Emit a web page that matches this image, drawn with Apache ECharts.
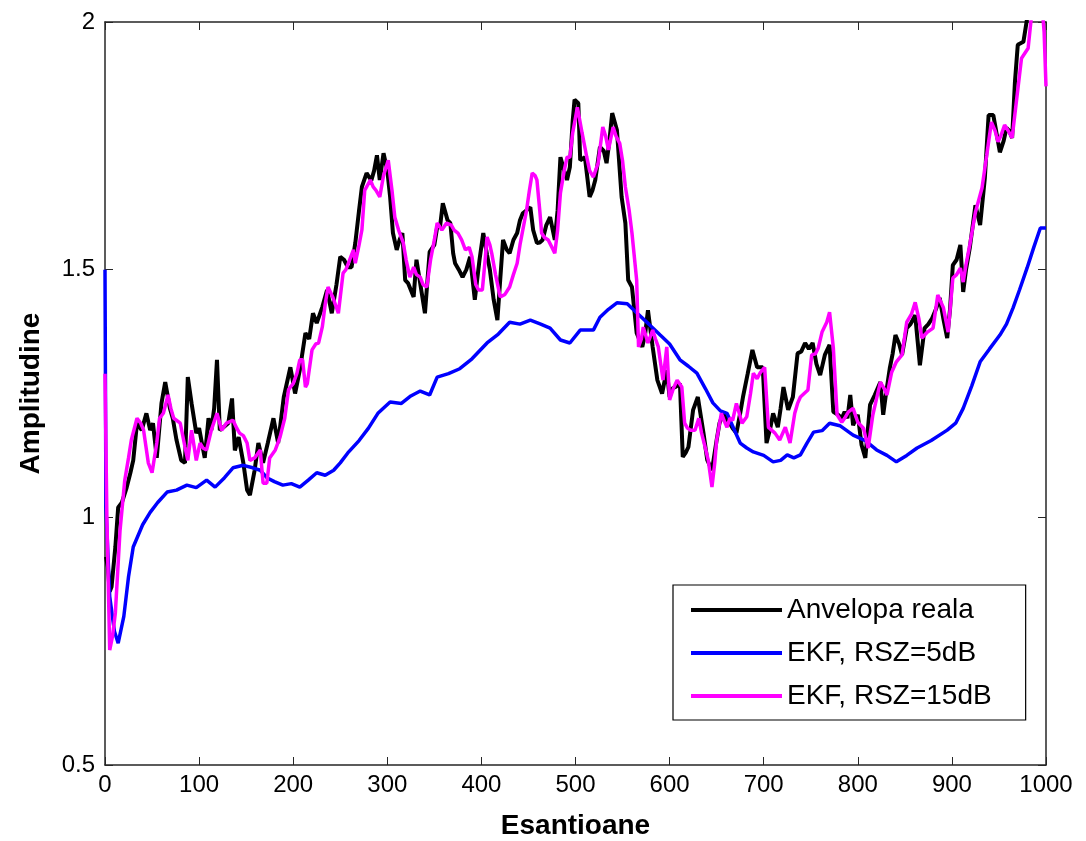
<!DOCTYPE html>
<html>
<head>
<meta charset="utf-8">
<title>Anvelopa</title>
<script src="https://cdn.jsdelivr.net/npm/echarts@6/dist/echarts.min.js"></script>
<style>
  html, body { margin: 0; padding: 0; background: #fff; }
  #chart { width: 1086px; height: 841px; }
</style>
</head>
<body>
<div id="chart"></div>
<script>
// Sample indices and amplitudes for each curve
const realIdx = [1,3,5,7,9,11,14,18,23,27,30,34,39,44,48,51,55,60,64,69,72,76,81,85,88,92,97,100,103,106,110,113,116,119,122,126,131,135,138,142,147,151,154,159,163,168,173,179,184,190,197,202,207,213,217,221,225,231,236,241,246,250,254,258,262,266,270,273,278,283,286,289,292,296,300,303,306,310,313,316,319,322,328,331,333,336,340,345,350,353,356,359,361,364,367,370,372,376,380,384,388,393,398,402,406,409,413,417,420,423,427,430,434,438,441,444,448,452,455,459,462,465,469,473,478,481,484,488,491,494,497,499,503,505,510,515,518,521,526,530,533,536,539,544,549,553,556,560,565,571,574,577,582,587,592,597,600,603,606,611,614,617,620,625,630,636,640,645,650,653,657,660,664,667,671,675,678,683,688,693,699,703,707,710,715,718,721,726,731,736,740,744,748,752,756,760,765,770,774,779,783,786,789,792,795,800,804,808,813,818,821,824,827,830,834,837,840,844,847,852,856,861,866,871,875,879,883,887,891,895,898,901,905,909,912,915,919,925,930,935,939,944,947,951,955,958,961,964,967,970,976,981,985,990,995,1000];
const realAmp = [0.92,0.90,0.85,0.86,0.90,0.94,1.02,1.03,1.06,1.09,1.115,1.19,1.176,1.21,1.176,1.19,1.12,1.23,1.273,1.22,1.20,1.156,1.115,1.11,1.283,1.23,1.17,1.18,1.15,1.12,1.20,1.176,1.22,1.318,1.176,1.182,1.19,1.24,1.135,1.162,1.11,1.055,1.045,1.095,1.15,1.11,1.15,1.20,1.15,1.243,1.303,1.25,1.297,1.372,1.36,1.412,1.392,1.425,1.459,1.412,1.47,1.526,1.52,1.505,1.505,1.554,1.62,1.667,1.695,1.68,1.70,1.731,1.681,1.735,1.70,1.647,1.574,1.54,1.56,1.574,1.479,1.473,1.445,1.52,1.52,1.46,1.412,1.536,1.55,1.586,1.586,1.634,1.634,1.60,1.594,1.533,1.513,1.50,1.485,1.50,1.526,1.439,1.52,1.574,1.53,1.50,1.44,1.398,1.48,1.56,1.54,1.533,1.56,1.574,1.60,1.614,1.62,1.626,1.58,1.554,1.555,1.56,1.59,1.606,1.56,1.62,1.727,1.70,1.681,1.707,1.80,1.843,1.836,1.721,1.727,1.647,1.66,1.681,1.748,1.74,1.715,1.76,1.816,1.782,1.647,1.594,1.479,1.465,1.372,1.344,1.37,1.418,1.344,1.277,1.25,1.297,1.243,1.26,1.263,1.27,1.122,1.13,1.142,1.217,1.243,1.17,1.116,1.095,1.156,1.19,1.21,1.20,1.19,1.18,1.17,1.21,1.243,1.29,1.338,1.303,1.303,1.15,1.18,1.21,1.182,1.22,1.263,1.217,1.243,1.331,1.335,1.352,1.34,1.352,1.31,1.287,1.328,1.348,1.213,1.207,1.20,1.213,1.20,1.247,1.186,1.207,1.146,1.12,1.227,1.247,1.26,1.273,1.207,1.25,1.301,1.33,1.368,1.35,1.328,1.382,1.39,1.408,1.307,1.382,1.39,1.402,1.42,1.443,1.40,1.362,1.42,1.509,1.52,1.55,1.455,1.50,1.544,1.63,1.59,1.685,1.812,1.812,1.78,1.737,1.76,1.786,1.78,1.766,1.879,1.954,1.96,2.02,2.06,2.10,2.12,2.10];

const ekf5Idx = [0,1,5,10,14,20,25,30,40,48,56,66,76,87,97,108,117,127,136,147,157,165,172,180,189,198,207,216,225,234,243,250,258,270,280,290,303,315,325,335,345,353,365,377,390,406,418,430,441,452,463,473,484,494,505,519,526,535,544,555,565,578,590,600,611,620,629,638,646,654,661,668,675,682,689,700,710,718,725,732,739,746,753,762,770,781,795,808,820,831,841,852,863,878,895,904,912,921,930,940,951,958,965,972,980,987,994,1000];
const ekf5Amp = [1.5,1.02,0.84,0.77,0.746,0.80,0.88,0.94,0.985,1.01,1.03,1.051,1.055,1.065,1.06,1.075,1.061,1.08,1.10,1.105,1.10,1.095,1.08,1.072,1.065,1.068,1.061,1.075,1.09,1.085,1.095,1.11,1.13,1.155,1.18,1.21,1.233,1.23,1.245,1.255,1.247,1.283,1.29,1.30,1.32,1.352,1.37,1.394,1.39,1.398,1.39,1.382,1.358,1.352,1.378,1.378,1.404,1.42,1.433,1.431,1.413,1.39,1.368,1.35,1.318,1.305,1.291,1.26,1.231,1.215,1.21,1.18,1.15,1.14,1.132,1.125,1.112,1.115,1.126,1.12,1.126,1.15,1.172,1.175,1.19,1.185,1.166,1.155,1.136,1.125,1.112,1.125,1.14,1.155,1.176,1.19,1.22,1.265,1.314,1.34,1.368,1.39,1.423,1.46,1.504,1.545,1.584,1.584];

const ekf15Idx = [0,2,5,8,11,16,21,25,28,34,38,41,46,50,55,58,62,67,70,73,80,85,88,92,97,101,104,108,113,119,124,129,136,140,143,147,151,154,159,165,168,172,175,181,186,191,195,197,200,204,207,210,213,215,220,224,227,231,234,237,239,242,248,253,256,260,264,266,270,273,276,278,282,285,288,292,296,301,305,308,312,317,320,324,328,331,335,338,342,346,350,353,358,363,368,371,375,379,383,387,390,394,397,401,404,406,409,411,415,420,425,430,434,438,441,444,448,451,454,457,459,462,464,467,471,475,478,481,484,488,491,494,497,502,507,512,515,519,524,529,532,535,540,543,547,550,553,557,560,565,567,570,572,577,582,585,588,593,597,600,604,608,613,616,619,622,627,631,634,638,641,645,648,650,655,658,661,664,667,671,674,677,682,686,689,693,696,701,705,709,712,717,723,728,733,736,739,743,747,751,755,758,762,767,770,774,778,783,786,790,795,800,806,811,816,820,824,828,831,836,841,847,852,857,861,865,868,874,880,885,891,896,901,905,909,912,915,919,925,932,937,942,946,949,952,956,960,964,969,974,981,985,990,995,998,1000];
const ekf15Amp = [1.29,1.0,0.732,0.76,0.807,0.974,1.075,1.12,1.156,1.20,1.19,1.176,1.11,1.09,1.15,1.20,1.21,1.247,1.22,1.20,1.19,1.142,1.115,1.176,1.115,1.15,1.14,1.136,1.176,1.21,1.176,1.19,1.196,1.18,1.17,1.165,1.15,1.115,1.12,1.136,1.069,1.069,1.12,1.136,1.162,1.20,1.257,1.263,1.27,1.291,1.318,1.318,1.263,1.27,1.338,1.35,1.352,1.385,1.43,1.465,1.465,1.445,1.412,1.493,1.50,1.52,1.54,1.513,1.55,1.58,1.66,1.66,1.681,1.667,1.66,1.647,1.69,1.721,1.66,1.606,1.58,1.554,1.52,1.485,1.505,1.49,1.485,1.47,1.465,1.52,1.56,1.594,1.58,1.594,1.59,1.58,1.574,1.56,1.54,1.545,1.526,1.47,1.459,1.459,1.52,1.566,1.55,1.533,1.49,1.445,1.45,1.465,1.49,1.513,1.55,1.58,1.62,1.66,1.695,1.69,1.681,1.62,1.574,1.565,1.56,1.545,1.533,1.58,1.655,1.70,1.727,1.727,1.776,1.828,1.776,1.727,1.70,1.687,1.715,1.788,1.77,1.742,1.788,1.77,1.755,1.72,1.667,1.62,1.574,1.479,1.344,1.36,1.384,1.352,1.378,1.36,1.344,1.277,1.344,1.237,1.26,1.277,1.263,1.19,1.18,1.176,1.176,1.20,1.17,1.14,1.116,1.061,1.11,1.156,1.21,1.195,1.182,1.20,1.196,1.23,1.21,1.19,1.203,1.25,1.291,1.28,1.291,1.303,1.182,1.175,1.17,1.156,1.182,1.15,1.21,1.23,1.243,1.25,1.257,1.328,1.33,1.342,1.374,1.394,1.414,1.342,1.207,1.192,1.20,1.213,1.22,1.192,1.18,1.14,1.207,1.24,1.273,1.26,1.247,1.293,1.314,1.328,1.394,1.41,1.434,1.40,1.362,1.374,1.382,1.449,1.423,1.374,1.483,1.49,1.503,1.475,1.51,1.55,1.616,1.665,1.731,1.798,1.78,1.758,1.77,1.792,1.78,1.766,1.847,1.927,1.947,2.02,2.08,2.05,1.98,1.87];

const xTicks = { min: 0, max: 1000, step: 100 };
const yTicks = { min: 0.5, max: 2, step: 0.5 };

const pairs = (xs, ys) => xs.map((x, i) => [x, ys[i]]);

const FONT = '"Liberation Sans", Arial, Helvetica, sans-serif';
const axisColor = '#262626';

const chart = echarts.init(document.getElementById('chart'), null, { renderer: 'canvas' });

const boxAxis = (extra) => Object.assign({
  type: 'value',
  axisLine: { show: true, onZero: false, lineStyle: { color: axisColor, width: 1.5 } },
  axisTick: { show: true, inside: true, length: 8, lineStyle: { color: axisColor, width: 1 } },
  splitLine: { show: false },
}, extra);

const plain = (v) => String(v);

chart.setOption({
  animation: false,
  backgroundColor: '#ffffff',
  grid: { left: 105, right: 40, top: 22, bottom: 76, containLabel: false, outerBoundsMode: 'none' },
  xAxis: [
    boxAxis({
      position: 'bottom', min: xTicks.min, max: xTicks.max, interval: xTicks.step,
      name: 'Esantioane', nameLocation: 'middle', nameGap: 47,
      nameTextStyle: { fontFamily: FONT, fontSize: 28, fontWeight: 'bold', color: '#000' },
      axisLabel: { show: true, margin: 8, fontFamily: FONT, fontSize: 24, color: '#000', formatter: plain }
    }),
    boxAxis({
      position: 'top', min: xTicks.min, max: xTicks.max, interval: xTicks.step,
      axisLabel: { show: false }
    })
  ],
  yAxis: [
    boxAxis({
      position: 'left', min: yTicks.min, max: yTicks.max, interval: yTicks.step,
      name: 'Amplitudine', nameLocation: 'middle', nameGap: 60, nameRotate: 90,
      nameTextStyle: { fontFamily: FONT, fontSize: 28, fontWeight: 'bold', color: '#000' },
      axisLabel: { show: true, margin: 10, fontFamily: FONT, fontSize: 24, color: '#000', formatter: plain }
    }),
    boxAxis({
      position: 'right', min: yTicks.min, max: yTicks.max, interval: yTicks.step,
      axisLabel: { show: false }
    })
  ],
  legend: {
    orient: 'vertical',
    left: 673, top: 585,
    padding: [10, 34, 9, 18],
    itemGap: 13,
    itemWidth: 91, itemHeight: 4,
    itemTextGap: 10,
    icon: 'rect',
    backgroundColor: '#ffffff',
    borderColor: '#000000', borderWidth: 1.2, borderRadius: 0,
    textStyle: { fontFamily: FONT, fontSize: 28, color: '#000', lineHeight: 30 },
    data: ['Anvelopa reala', 'EKF, RSZ=5dB', 'EKF, RSZ=15dB']
  },
  series: [
    {
      name: 'Anvelopa reala', type: 'line', showSymbol: false, symbol: 'none',
      data: pairs(realIdx, realAmp),
      lineStyle: { color: '#000000', width: 4 }, itemStyle: { color: '#000000' },
      clip: true, z: 2
    },
    {
      name: 'EKF, RSZ=5dB', type: 'line', showSymbol: false, symbol: 'none',
      data: pairs(ekf5Idx, ekf5Amp),
      lineStyle: { color: '#0000ff', width: 3.5 }, itemStyle: { color: '#0000ff' },
      clip: true, z: 3
    },
    {
      name: 'EKF, RSZ=15dB', type: 'line', showSymbol: false, symbol: 'none',
      data: pairs(ekf15Idx, ekf15Amp),
      lineStyle: { color: '#ff00ff', width: 3.5 }, itemStyle: { color: '#ff00ff' },
      clip: true, z: 4
    }
  ]
});
</script>
</body>
</html>
